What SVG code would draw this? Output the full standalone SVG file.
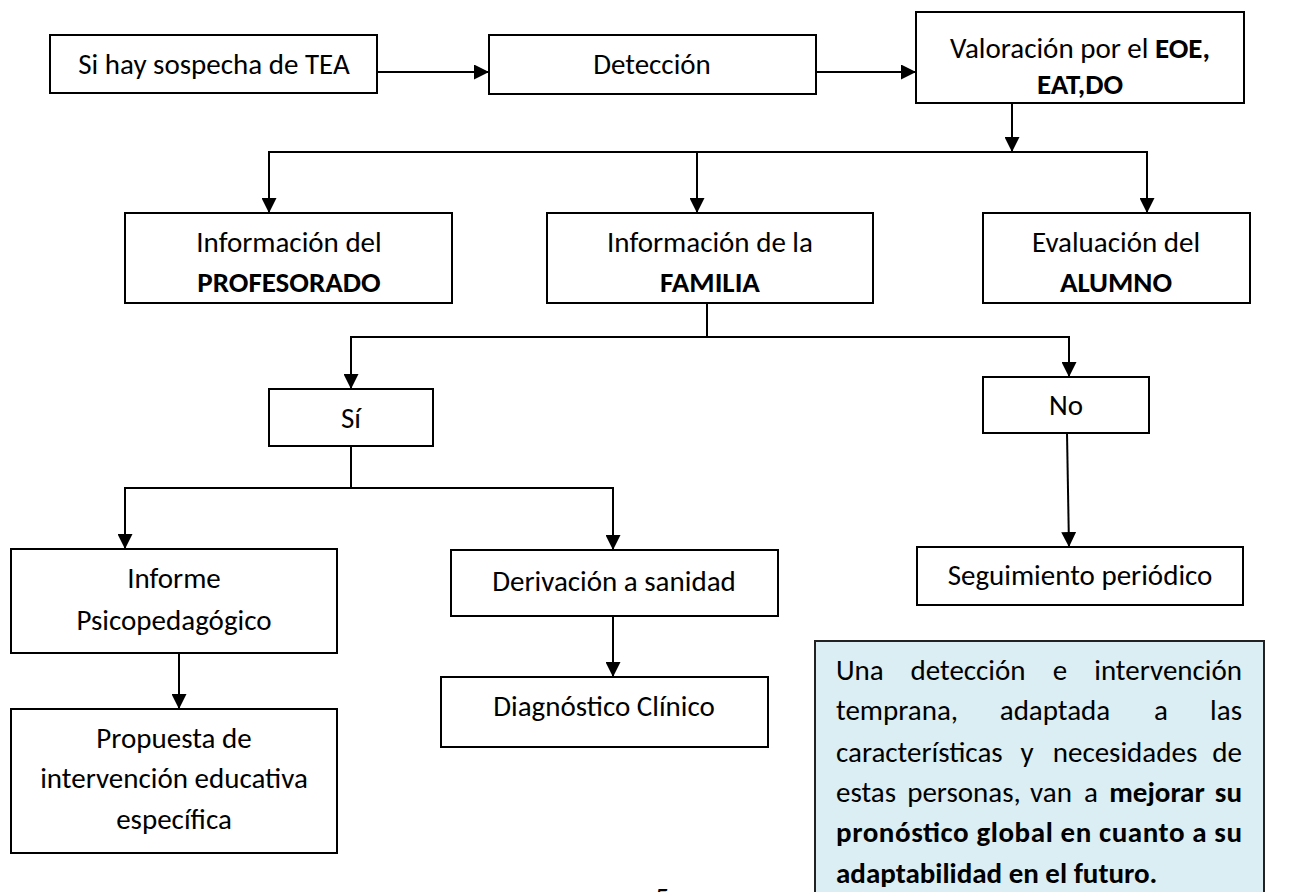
<svg xmlns="http://www.w3.org/2000/svg" width="1301" height="892" viewBox="0 0 1301 892">
<style>
.box{fill:#fff;stroke:#000;stroke-width:2}
.note{fill:#DAEEF3;stroke:#222;stroke-width:2}
.t{font-family:Carlito,Lato,"Liberation Sans",sans-serif;font-size:29px;fill:#000;text-anchor:middle}
.b{font-weight:bold}
.j{font-family:Carlito,Lato,"Liberation Sans",sans-serif;font-size:29px;fill:#000}
.c{fill:none;stroke:#000;stroke-width:2}
</style>
<defs>
<marker id="ah" viewBox="0 0 15 15" refX="15" refY="7.5" markerWidth="15" markerHeight="15" markerUnits="userSpaceOnUse" orient="auto">
<path d="M0,0 L15,7.5 L0,15 z" fill="#000"/>
</marker>
</defs>
<rect width="1301" height="892" fill="#fff"/>
<g id="connectors">
<line class="c" x1="377" y1="72" x2="489" y2="72" marker-end="url(#ah)"/>
<line class="c" x1="816" y1="72" x2="916" y2="72" marker-end="url(#ah)"/>
<line class="c" x1="1012" y1="103" x2="1012" y2="152" marker-end="url(#ah)"/>
<polyline class="c" points="269,213 269,152 1147,152 1147,213" marker-end="url(#ah)"/>
<line class="c" x1="269" y1="152" x2="269" y2="213" marker-end="url(#ah)"/>
<line class="c" x1="697" y1="152" x2="697" y2="213" marker-end="url(#ah)"/>
<polyline class="c" points="707,303 707,337"/>
<polyline class="c" points="351,389 351,337 1069,337 1069,377" marker-end="url(#ah)"/>
<line class="c" x1="351" y1="337" x2="351" y2="389" marker-end="url(#ah)"/>
<line class="c" x1="1067" y1="433" x2="1069" y2="547" marker-end="url(#ah)"/>
<polyline class="c" points="351,446 351,488"/>
<polyline class="c" points="125,549 125,488 613,488 613,550" marker-end="url(#ah)"/>
<line class="c" x1="125" y1="488" x2="125" y2="549" marker-end="url(#ah)"/>
<line class="c" x1="179" y1="653" x2="179" y2="709" marker-end="url(#ah)"/>
<line class="c" x1="613" y1="616" x2="613" y2="677" marker-end="url(#ah)"/>
</g>
<g id="n-sospecha">
<rect class="box" x="50" y="35" width="327" height="58"/>
<text class="t" x="214" y="74">Si hay sospecha de TEA</text>
</g>
<g id="n-deteccion">
<rect class="box" x="489" y="35" width="327" height="59"/>
<text class="t" x="652" y="74">Detección</text>
</g>
<g id="n-valoracion">
<rect class="box" x="916" y="12" width="328" height="91"/>
<text class="t" x="1080" y="58">Valoración por el <tspan class="b">EOE,</tspan></text>
<text class="t b" x="1080" y="94">EAT,DO</text>
</g>
<g id="n-profesorado">
<rect class="box" x="125" y="213" width="327" height="90"/>
<text class="t" x="289" y="252">Información del</text>
<text class="t b" x="289" y="292">PROFESORADO</text>
</g>
<g id="n-familia">
<rect class="box" x="547" y="213" width="326" height="90"/>
<text class="t" x="710" y="252">Información de la</text>
<text class="t b" x="710" y="292">FAMILIA</text>
</g>
<g id="n-alumno">
<rect class="box" x="983" y="213" width="267" height="90"/>
<text class="t" x="1116" y="252">Evaluación del</text>
<text class="t b" x="1116" y="292">ALUMNO</text>
</g>
<g id="n-si">
<rect class="box" x="269" y="389" width="164" height="57"/>
<text class="t" x="351" y="428">Sí</text>
</g>
<g id="n-no">
<rect class="box" x="983" y="377" width="166" height="56"/>
<text class="t" x="1066" y="415">No</text>
</g>
<g id="n-informe">
<rect class="box" x="11" y="549" width="326" height="104"/>
<text class="t" x="174" y="588">Informe</text>
<text class="t" x="174" y="630">Psicopedagógico</text>
</g>
<g id="n-propuesta">
<rect class="box" x="11" y="709" width="326" height="144"/>
<text class="t" x="174" y="748">Propuesta de</text>
<text class="t" x="174" y="788">intervención educativa</text>
<text class="t" x="174" y="829">específica</text>
</g>
<g id="n-derivacion">
<rect class="box" x="451" y="550" width="327" height="66"/>
<text class="t" x="614" y="591">Derivación a sanidad</text>
</g>
<g id="n-diagnostico">
<rect class="box" x="441" y="677" width="327" height="70"/>
<text class="t" x="604" y="716">Diagnóstico Clínico</text>
</g>
<g id="n-seguimiento">
<rect class="box" x="917" y="547" width="326" height="58"/>
<text class="t" x="1080" y="585">Seguimiento periódico</text>
</g>
<g id="n-nota">
<rect class="note" x="815" y="641" width="449" height="270"/>
<text class="j" y="680"><tspan x="836">Una</tspan><tspan x="968" text-anchor="middle">detección</tspan><tspan x="1060" text-anchor="middle">e</tspan><tspan x="1242" text-anchor="end">intervención</tspan></text>
<text class="j" y="720"><tspan x="836">temprana,</tspan><tspan x="1055" text-anchor="middle">adaptada</tspan><tspan x="1161" text-anchor="middle">a</tspan><tspan x="1242" text-anchor="end">las</tspan></text>
<text class="j" y="762"><tspan x="836">características</tspan><tspan x="1027" text-anchor="middle">y</tspan><tspan x="1125" text-anchor="middle">necesidades</tspan><tspan x="1242" text-anchor="end">de</tspan></text>
<text class="j" y="802"><tspan x="836">estas</tspan><tspan x="964" text-anchor="middle">personas,</tspan><tspan x="1051" text-anchor="middle">van</tspan><tspan x="1091" text-anchor="middle">a</tspan><tspan x="1157" text-anchor="middle" font-weight="bold">mejorar</tspan><tspan x="1242" text-anchor="end" font-weight="bold">su</tspan></text>
<text class="j b" x="836" y="842" textLength="406" lengthAdjust="spacing">pronóstico global en cuanto a su</text>
<text class="j b" x="836" y="883">adaptabilidad en el futuro.</text>
</g>
<text class="t" x="662" y="908">5</text>
</svg>
